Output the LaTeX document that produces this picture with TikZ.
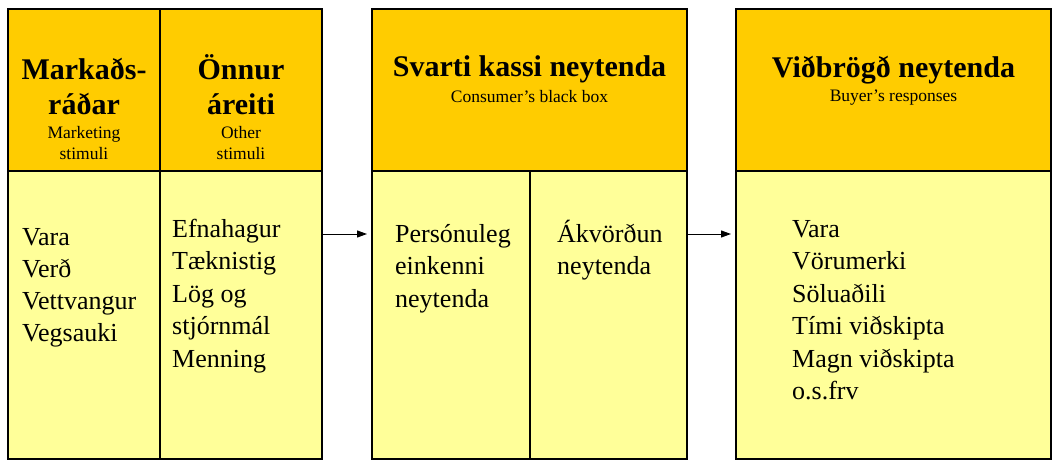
\documentclass[tikz,border=0pt]{standalone}
\usepackage{fontspec}
\setmainfont{Liberation Serif}
\usetikzlibrary{arrows.meta}
\definecolor{headcol}{HTML}{FFCC00}
\definecolor{bodycol}{HTML}{FFFF99}
\tikzset{
  cell/.style={draw=black, line width=1.2pt, rectangle, inner sep=0pt, outer sep=0pt},
  headcell/.style={cell, fill=headcol},
  bodycell/.style={cell, fill=bodycol},
  bigtitle/.style={inner sep=0pt, font=\fontsize{30}{35}\selectfont\bfseries, anchor=base},
  subtitle/.style={inner sep=0pt, font=\fontsize{17.5}{21}\selectfont, anchor=base},
  listtext/.style={inner sep=0pt, font=\fontsize{26}{32.5}\selectfont, anchor=base west},
  flow/.style={line width=1pt, -{Triangle[length=10pt,width=7pt]}}
}
\newcommand{\ctab}[1]{\begin{tabular}[t]{@{}c@{}}#1\end{tabular}}
\newcommand{\ltab}[1]{\begin{tabular}[t]{@{}l@{}}#1\end{tabular}}
\begin{document}
\begin{tikzpicture}[x=1pt,y=-1pt]
\useasboundingbox (0,0) rectangle (1057,468);
% box 1
\node[headcell, minimum width=152pt, minimum height=162pt] (h1a) at (84,90) {};
\node[headcell, minimum width=162pt, minimum height=162pt] (h1b) at (241,90) {};
\node[bodycell, minimum width=152pt, minimum height=288pt] (b1a) at (84,315) {};
\node[bodycell, minimum width=162pt, minimum height=288pt] (b1b) at (241,315) {};
% box 2
\node[headcell, minimum width=315pt, minimum height=162pt] (h2) at (529.5,90) {};
\node[bodycell, minimum width=158pt, minimum height=288pt] (b2a) at (451,315) {};
\node[bodycell, minimum width=157pt, minimum height=288pt] (b2b) at (608.5,315) {};
% box 3
\node[headcell, minimum width=315pt, minimum height=162pt] (h3) at (893.5,90) {};
\node[bodycell, minimum width=315pt, minimum height=288pt] (b3) at (893.5,315) {};
% header texts
\node[bigtitle] (t1) at (84,80) {\ctab{Markaðs-\\ráðar}};
\node[subtitle] (s1) at (84,139) {\ctab{Marketing\\stimuli}};
\node[bigtitle] (t2) at (241,80) {\ctab{Önnur\\áreiti}};
\node[subtitle] (s2) at (241,139) {\ctab{Other\\stimuli}};
\node[bigtitle] (t3) at (529.5,77) {Svarti kassi neytenda};
\node[subtitle] (s3) at (529.5,103) {Consumer's black box};
\node[bigtitle] (t4) at (893.5,78) {Viðbrögð neytenda};
\node[subtitle] (s4) at (893.5,102) {Buyer's responses};
% body texts
\node[listtext, font=\fontsize{26}{32}\selectfont] (l1) at (22,245) {\ltab{Vara\\Verð\\Vettvangur\\Vegsauki}};
\node[listtext] (l2) at (172,237) {\ltab{Efnahagur\\Tæknistig\\Lög og\\stjórnmál\\Menning}};
\node[listtext] (l3) at (395,242) {\ltab{Persónuleg\\einkenni\\neytenda}};
\node[listtext] (l4) at (557,242) {\ltab{Ákvörðun\\neytenda}};
\node[listtext] (l5) at (792,237) {\ltab{Vara\\Vörumerki\\Söluaðili\\Tími viðskipta\\Magn viðskipta\\o.s.frv}};
% arrows
\coordinate (row) at (0,234);
\draw[flow] (b1b.east |- row) -- ([xshift=-5pt]b2a.west |- row);
\draw[flow] (b2b.east |- row) -- ([xshift=-5pt]b3.west |- row);
\end{tikzpicture}
\end{document}
